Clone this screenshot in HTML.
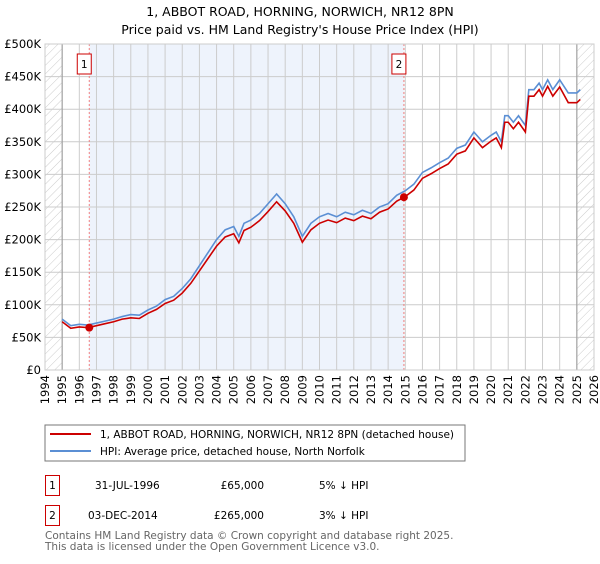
<!DOCTYPE html>
<html><head><meta charset="utf-8"><style>
body{margin:0;width:600px;height:560px;background:#fff;font-family:"DejaVu Sans","Liberation Sans",sans-serif;overflow:hidden}
svg text{font-family:"DejaVu Sans","Liberation Sans",sans-serif}
</style></head><body>
<svg id="chart" width="600" height="560">
<defs><pattern id="hatch" width="6" height="6" patternUnits="userSpaceOnUse" patternTransform="rotate(45)"><line x1="0" y1="0" x2="0" y2="6" stroke="#ccc" stroke-width="1"/></pattern></defs>
<text x="300" y="16" text-anchor="middle" font-size="12.5">1, ABBOT ROAD, HORNING, NORWICH, NR12 8PN</text>
<text x="300" y="34" text-anchor="middle" font-size="12.5">Price paid vs. HM Land Registry's House Price Index (HPI)</text>
<g id="plot"></g>
<rect x="45" y="425" width="420" height="36" fill="#fff" stroke="#777"/>
<line x1="50" y1="434" x2="91" y2="434" stroke="#cc0000" stroke-width="2"/>
<text x="100" y="438" font-size="10.5">1, ABBOT ROAD, HORNING, NORWICH, NR12 8PN (detached house)</text>
<line x1="50" y1="451" x2="91" y2="451" stroke="#5b8fd4" stroke-width="2"/>
<text x="100" y="455" font-size="10.5">HPI: Average price, detached house, North Norfolk</text>
<g font-size="10.5">
<rect x="45.5" y="475.5" width="14" height="20" fill="none" stroke="#cc0000"/>
<text x="52.5" y="489" text-anchor="middle">1</text>
<text x="95" y="489">31-JUL-1996</text><text x="264" y="489" text-anchor="end">£65,000</text><text x="319" y="489">5% ↓ HPI</text>
<rect x="45.5" y="505.5" width="14" height="20" fill="none" stroke="#cc0000"/>
<text x="52.5" y="519" text-anchor="middle">2</text>
<text x="88" y="519">03-DEC-2014</text><text x="264" y="519" text-anchor="end">£265,000</text><text x="319" y="519">3% ↓ HPI</text>
</g>
<text x="45" y="539" font-size="10.5" fill="#666">Contains HM Land Registry data © Crown copyright and database right 2025.</text>
<text x="45" y="550" font-size="10.5" fill="#666">This data is licensed under the Open Government Licence v3.0.</text>
</svg>
<script>
const hpiYears=[1995,1995.5,1996,1996.5,1997,1997.5,1998,1998.5,1999,1999.5,2000,2000.5,2001,2001.5,2002,2002.5,2003,2003.5,2004,2004.5,2005,2005.3,2005.6,2006,2006.5,2007,2007.5,2008,2008.5,2009,2009.5,2010,2010.5,2011,2011.5,2012,2012.5,2013,2013.5,2014,2014.5,2015,2015.5,2016,2016.5,2017,2017.5,2018,2018.5,2019,2019.5,2020,2020.3,2020.6,2020.8,2021,2021.3,2021.6,2022,2022.2,2022.5,2022.8,2023,2023.3,2023.6,2024,2024.5,2025,2025.2];
const hpiValues=[78,68,70,69,72,75,78,82,85,84,92,98,108,113,125,140,160,180,200,215,220,205,225,230,240,255,270,255,235,205,225,235,240,235,242,238,245,240,250,255,268,275,285,303,310,318,325,340,345,365,350,360,365,350,390,390,380,390,375,430,430,440,430,445,430,445,425,425,430];
const priceValues=[74,64,66,65,68,71,74,78,80,79,87,93,102,107,118,133,152,171,190,204,209,195,214,219,229,243,258,244,225,196,215,225,230,226,233,229,236,232,242,247,259,266,276,294,301,309,316,331,336,356,341,351,356,341,380,380,370,380,365,420,420,430,420,435,420,434,410,410,415];
const saleDates=[1996.58,2014.92];
const salePrices=[65,265];
const saleLabels=["1","2"];
const yTicks=[0,50,100,150,200,250,300,350,400,450,500];
const yTickLabels=["£0","£50K","£100K","£150K","£200K","£250K","£300K","£350K","£400K","£450K","£500K"];
const xTicks=[1994,1995,1996,1997,1998,1999,2000,2001,2002,2003,2004,2005,2006,2007,2008,2009,2010,2011,2012,2013,2014,2015,2016,2017,2018,2019,2020,2021,2022,2023,2024,2025,2026];

const L=45,R=594,T=44,B=370;
const x=t=>L+(t-1994)*(R-L)/32;
const y=v=>B-v*(B-T)/500;
const NS="http://www.w3.org/2000/svg";
const g=document.getElementById('plot');
function mk(tag,attrs){const e=document.createElementNS(NS,tag);for(const k in attrs)e.setAttribute(k,attrs[k]);g.appendChild(e);return e;}

let e=mk('rect',{x:L,y:T,width:R-L,height:B-T,fill:'#fff'});


e=mk('rect',{x:x(saleDates[0]),y:T,width:x(saleDates[1])-x(saleDates[0]),height:B-T,fill:'#eef3fc'});


e=mk('rect',{x:L,y:T,width:x(1995)-L,height:B-T,fill:'url(#hatch)'});


e=mk('rect',{x:x(2025),y:T,width:R-x(2025),height:B-T,fill:'url(#hatch)'});


yTicks.forEach((v,i)=>{
  e=mk('line',{x1:L,x2:R,y1:y(v),y2:y(v),stroke:'#ccc'});
  
  
  e=mk('text',{x:L-4,y:y(v)+4,'text-anchor':'end','font-size':'11.5'});e.textContent=yTickLabels[i];
  
  
});
xTicks.forEach(t=>{
  e=mk('line',{x1:x(t),x2:x(t),y1:T,y2:B,stroke:'#ccc'});
  
  
  e=mk('text',{x:x(t)+4,y:B+5,'text-anchor':'end','font-size':'11.5',transform:`rotate(-90 ${x(t)+4} ${B+5})`});e.textContent=t;
  
  
});
[1995,2025].forEach(t=>{
  e=mk('line',{x1:x(t),x2:x(t),y1:T,y2:B,stroke:'#999'});
  
  
});
saleDates.forEach((d,i)=>{
  e=mk('line',{x1:x(d),x2:x(d),y1:T,y2:B,stroke:'#f08080','stroke-dasharray':'2,2'});
  
  
  e=mk('rect',{x:x(d)-12,y:54,width:14,height:20,fill:'#fff',stroke:'#cc0000'});
  
  
  e=mk('text',{x:x(d)-5,y:68,'text-anchor':'middle','font-size':'10.5'});e.textContent=saleLabels[i];
  
  
});
e=mk('polyline',{points:hpiYears.map((t,i)=>x(t)+','+y(hpiValues[i])).join(' '),fill:'none',stroke:'#5b8fd4','stroke-width':1.6});


e=mk('polyline',{points:hpiYears.map((t,i)=>x(t)+','+y(priceValues[i])).join(' '),fill:'none',stroke:'#cc0000','stroke-width':1.6});


saleDates.forEach((d,i)=>{
  e=mk('circle',{cx:x(d),cy:y(salePrices[i]),r:4,fill:'#cc0000'});
  
  
});
e=mk('rect',{x:L,y:T,width:R-L,height:B-T,fill:'none',stroke:'#ccc'});


</script>
</body></html>
